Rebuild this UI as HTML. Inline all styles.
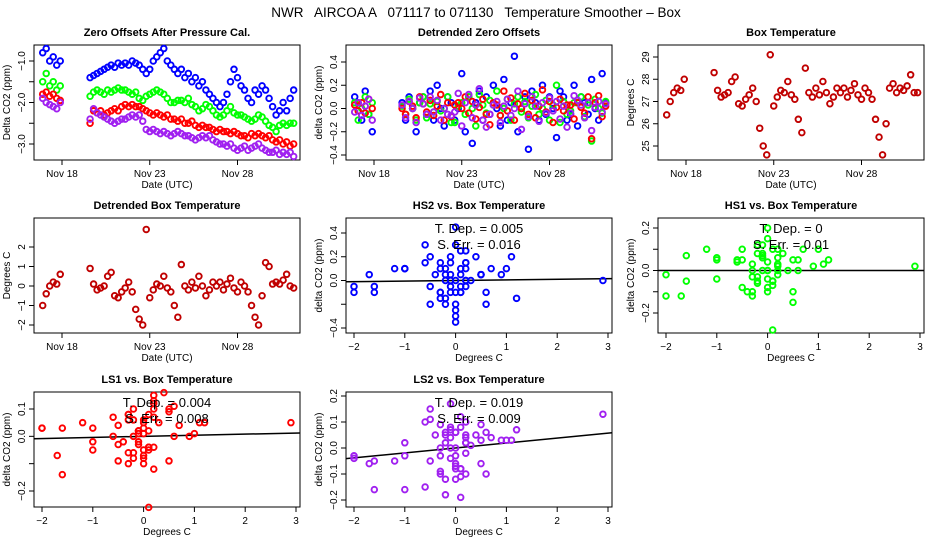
<!DOCTYPE html>
<html><head><meta charset="utf-8"><style>
html,body{margin:0;padding:0;background:#fff}
svg{display:block;font-family:"Liberation Sans",Arial,sans-serif}
</style></head><body>
<svg id="fig" width="936" height="540" viewBox="0 0 936 540" xmlns="http://www.w3.org/2000/svg">
<rect width="936" height="540" fill="#fff"/>
<text x="476" y="17" font-size="13.5" text-anchor="middle" xml:space="preserve">NWR   AIRCOA A   071117 to 071130   Temperature Smoother – Box</text>
</svg>
<script>
const timesA=[16.9,17.1,17.3,17.5,17.7,17.9];
const timesB=[19.6,19.8,20.0,20.2,20.4,20.6,20.8,21.0,21.2,21.4,21.6,21.8,22.0,22.2,22.4,22.6,22.8,23.0,23.2,23.4,23.6,23.8,24.0,24.2,24.4,24.6,24.8,25.0,25.2,25.4,25.6,25.8,26.0,26.2,26.4,26.6,26.8,27.0,27.2,27.4,27.6,27.8,28.0,28.2,28.4,28.6,28.8,29.0,29.2,29.4,29.6,29.8,30.0,30.2,30.4,30.6,30.8,31.0,31.2];
const times=timesA.concat(timesB);
const zeroHS2=[-0.8,-0.7,-1.0,-0.9,-1.1,-1.0,-1.4,-1.35,-1.3,-1.25,-1.2,-1.15,-1.1,-1.15,-1.05,-1.1,-1.05,-1.1,-1.0,-1.05,-1.1,-1.2,-1.3,-1.2,-1.0,-0.9,-0.8,-0.7,-1.0,-1.1,-1.2,-1.3,-1.2,-1.4,-1.3,-1.5,-1.4,-1.6,-1.5,-1.7,-1.8,-1.9,-2.0,-2.1,-2.0,-1.8,-1.5,-1.2,-1.4,-1.6,-1.7,-1.9,-2.0,-1.7,-1.8,-1.6,-1.7,-1.9,-2.1,-2.3,-2.2,-2.0,-2.2,-1.9,-1.7];
const zeroHS1=[-1.5,-1.3,-1.6,-1.5,-1.7,-1.6,-1.85,-1.75,-1.7,-1.75,-1.8,-1.7,-1.75,-1.7,-1.65,-1.7,-1.7,-1.75,-1.8,-1.75,-1.9,-1.95,-1.85,-1.8,-1.75,-1.7,-1.75,-1.8,-1.9,-2.0,-2.0,-1.95,-1.95,-2.0,-1.9,-2.05,-2.1,-2.2,-2.15,-2.05,-2.1,-2.2,-2.3,-2.35,-2.3,-2.2,-2.1,-2.25,-2.3,-2.3,-2.35,-2.4,-2.45,-2.4,-2.3,-2.35,-2.45,-2.55,-2.6,-2.7,-2.55,-2.5,-2.55,-2.5,-2.5];
const zeroLS1=[-1.8,-1.75,-1.85,-1.8,-1.9,-1.95,-2.5,-2.2,-2.25,-2.2,-2.3,-2.25,-2.2,-2.15,-2.2,-2.1,-2.05,-2.1,-2.05,-2.1,-2.1,-2.15,-2.2,-2.25,-2.3,-2.25,-2.3,-2.35,-2.3,-2.4,-2.4,-2.45,-2.4,-2.5,-2.5,-2.45,-2.55,-2.6,-2.55,-2.6,-2.6,-2.65,-2.7,-2.65,-2.7,-2.7,-2.75,-2.7,-2.75,-2.8,-2.8,-2.85,-2.75,-2.8,-2.75,-2.8,-2.85,-2.8,-2.9,-2.95,-2.9,-3.0,-2.95,-3.05,-3.0];
const zeroLS2=[-1.9,-2.0,-2.05,-2.1,-2.15,-2.0,-2.4,-2.15,-2.25,-2.3,-2.35,-2.4,-2.45,-2.5,-2.45,-2.4,-2.4,-2.35,-2.3,-2.35,-2.3,-2.45,-2.65,-2.7,-2.65,-2.7,-2.75,-2.7,-2.75,-2.8,-2.75,-2.7,-2.75,-2.8,-2.8,-2.85,-2.9,-2.85,-2.8,-2.85,-2.8,-2.9,-2.95,-3.0,-3.0,-3.05,-3.0,-3.1,-3.15,-3.1,-3.05,-3.15,-3.1,-3.05,-3.0,-3.1,-3.15,-3.2,-3.2,-3.15,-3.25,-3.2,-3.25,-3.2,-3.3];
const detHS2=[0.1,0.05,-0.1,0.15,-0.05,-0.2,0.05,-0.1,0.1,0.0,-0.2,0.05,0.1,-0.05,0.15,-0.1,0.2,0.0,-0.15,0.1,0.05,-0.1,0.0,0.3,-0.2,0.1,-0.3,0.05,0.15,-0.1,0.1,-0.05,0.2,0.0,-0.15,0.25,-0.1,0.05,0.45,-0.2,0.0,0.1,-0.35,0.15,0.05,-0.1,0.2,-0.05,0.1,0.0,-0.25,0.15,0.1,-0.1,-0.05,0.2,-0.15,0.1,0.05,-0.05,0.25,0.0,-0.1,0.3,0.05];
const detHS1=[0.05,-0.1,0.0,0.1,-0.05,0.05,0.02,-0.05,0.08,0.0,-0.1,0.05,0.1,-0.08,0.04,-0.03,0.06,-0.02,0.0,0.1,-0.12,-0.12,0.02,0.05,-0.05,0.1,0.0,-0.15,0.12,0.03,-0.04,0.07,0.03,0.15,-0.06,0.0,0.08,-0.1,0.04,0.1,-0.03,0.06,-0.08,0.02,0.12,-0.05,0.0,0.07,-0.1,0.03,0.2,-0.12,0.06,-0.05,-0.02,0.05,0.05,0.1,-0.07,0.03,-0.28,0.08,0.0,-0.04,0.06];
const detLS1=[0.03,-0.02,0.05,-0.04,0.08,0.0,0.0,-0.05,0.06,0.02,-0.08,0.1,0.04,-0.03,0.07,-0.06,0.02,0.12,-0.1,0.05,-0.07,0.03,0.05,0.0,0.1,-0.04,0.06,-0.09,0.01,0.08,-0.05,-0.14,0.05,0.03,-0.06,0.15,-0.02,0.09,-0.1,0.04,0.0,0.13,-0.05,0.07,-0.08,0.02,0.16,-0.03,0.06,-0.12,0.01,0.08,-0.02,0.03,0.03,-0.09,0.05,0.01,-0.04,0.1,-0.26,0.05,0.11,-0.07,0.02];
const detLS2=[-0.03,0.05,-0.06,0.02,0.08,-0.1,0.03,-0.08,0.06,0.0,-0.12,0.09,0.04,-0.05,0.1,-0.03,0.07,-0.1,0.0,-0.05,-0.06,-0.03,0.13,-0.15,0.05,0.12,-0.08,0.03,0.17,-0.1,-0.16,-0.05,0.03,0.06,-0.12,0.02,0.08,-0.06,0.0,0.15,-0.18,0.04,-0.07,0.1,0.02,-0.11,0.05,-0.04,0.09,-0.02,0.06,-0.09,0.02,-0.16,-0.04,0.11,0.07,0.03,-0.08,0.05,-0.19,0.01,0.06,-0.03,0.04];
const boxTemp=[26.4,27.0,27.4,27.6,27.5,28.0,28.3,27.5,27.2,27.3,27.4,27.9,28.1,26.9,26.8,27.1,27.3,27.6,27.0,25.8,25.0,24.6,29.1,26.8,27.2,27.5,27.4,27.9,27.3,27.1,26.2,25.6,28.5,27.4,27.2,27.6,27.3,27.9,27.4,26.9,27.2,27.6,27.4,27.6,27.2,27.5,27.8,27.3,27.1,27.6,27.4,27.1,26.2,25.4,24.6,26.0,27.6,27.8,27.4,27.6,27.5,27.7,28.2,27.4,27.4];
const detBoxTemp=[-1.0,-0.4,0.0,0.2,0.1,0.6,0.9,0.1,-0.2,-0.1,0.0,0.5,0.7,-0.5,-0.6,-0.3,-0.1,0.2,-0.3,-1.2,-1.7,-2.0,2.9,-0.6,-0.2,0.1,0.0,0.5,-0.1,-0.3,-1.0,-1.6,1.1,0.0,-0.2,0.2,-0.1,0.5,0.0,-0.5,-0.2,0.2,0.0,0.2,-0.2,0.1,0.4,-0.1,-0.3,0.2,0.0,-0.3,-1.0,-1.6,-2.0,-0.5,1.2,1.0,0.1,0.2,0.1,0.3,0.6,0.0,-0.1];
const dateTicks=[18,23,28];
const dateLabels=["Nov 18","Nov 23","Nov 28"];
const degTicks=[-2,-1,0,1,2,3];
const slopes=[0.005,0,0.004,0.019];
const tdepLabels=["0.005","0","0.004","0.019"];
const serrLabels=["0.016","0.01","0.008","0.009"];

const NS="http://www.w3.org/2000/svg";
const svg=document.getElementById('fig');
function el(tag,attrs,parent,txt){const e=document.createElementNS(NS,tag);for(const k in attrs)e.setAttribute(k,attrs[k]);if(txt!==undefined)e.textContent=txt;(parent||svg).appendChild(e);return e;}
const colsX=[[34,300],[346,612],[658,924]];
const rowsY=[[45,160],[218,333],[392,507]];
const C={b:"#0000ff",g:"#00ff00",r:"#ff0000",p:"#a020f0"};

function panel(cfg){
  const [L,R]=colsX[cfg.col],[T,B]=rowsY[cfg.row];
  const g=el('g',{});
  
  
  const sx=cfg.xf(L), sy=v=>cfg.y1p+(v-cfg.y1)*(cfg.y2p-cfg.y1p)/(cfg.y2-cfg.y1);
  const t=el('text',{x:(L+R)/2,y:T-9,'font-size':11,'font-weight':'bold','text-anchor':'middle'},g,cfg.title);
  
  
  const fr=el('rect',{x:L,y:T,width:R-L,height:B-T,fill:'none',stroke:'#000','stroke-width':1},g);
  
  
  cfg.xticks.forEach((v,i)=>{const x=sx(v);el('line',{x1:x,x2:x,y1:B,y2:B+5,stroke:'#000'},g);
    const lb=el('text',{x:x,y:B+17,'font-size':10,'text-anchor':'middle'},g,cfg.xlabels[i]);
    
    });
  const xt=el('text',{x:(L+R)/2,y:B+28,'font-size':10,'text-anchor':'middle'},g,cfg.xtitle);
  
  
  cfg.yticks.forEach(v=>{const y=sy(v);el('line',{x1:L-5,x2:L,y1:y,y2:y,stroke:'#000'},g);});
  cfg.ylabels.forEach(v=>{const y=sy(v);const lb=el('text',{x:L-9,y:y,'font-size':10,'text-anchor':'middle',transform:`rotate(-90 ${L-9} ${y})`},g,v.toFixed(cfg.yd).replace('-','−'));
    
    });
  const yt=el('text',{x:L-24,y:(T+B)/2,'font-size':10,'text-anchor':'middle',transform:`rotate(-90 ${L-24} ${(T+B)/2})`},g,cfg.ytitle);
  
  
  if(cfg.slope!==undefined){
    const ln=el('line',{x1:L,x2:R,y1:sy(cfg.slope*cfg.xinv(L)),y2:sy(cfg.slope*cfg.xinv(R)),stroke:'#000','stroke-width':1.5},g);
    
    
  }
  cfg.series.forEach(s=>{
    const sg=el('g',{fill:'none',stroke:s.c,'stroke-width':1.9},g);
    
    
    const n=Math.min(s.x.length,s.y.length);
    for(let i=0;i<n;i++){const x=sx(s.x[i]),y=sy(s.y[i]);if(y<T-2||y>B+2)continue;
      el('circle',{cx:x,cy:y,r:2.8},sg);}
  });
  if(cfg.ann!==undefined){
    const a1=el('text',{x:(L+R)/2,y:T+15,'font-size':13,'text-anchor':'middle','xml:space':'preserve'},g,'T. Dep. =  '+tdepLabels[cfg.ann]);
    
    
    const a2=el('text',{x:(L+R)/2,y:T+31,'font-size':13,'text-anchor':'middle','xml:space':'preserve'},g,'S. Err. =  '+serrLabels[cfg.ann]);
    
    
  }
}
const timeX=L=>d=>L+28+(d-18)*17.55;
const degX=L=>v=>L+8+(v+2)*50.8;
const degInv=L=>p=>(p-L-8)/50.8-2;
const dT={xticks:dateTicks,xlabels:dateLabels,xtitle:'Date (UTC)'};
const dD={xticks:degTicks,xlabels:degTicks.map(v=>String(v).replace('-','−')),xtitle:'Degrees C'};

panel(Object.assign({name:'zero-offsets-panel',col:0,row:0,title:'Zero Offsets After Pressure Cal.',xf:timeX,y1:-1,y1p:61,y2:-3,y2p:144,yticks:[-1,-1.5,-2,-2.5,-3],ylabels:[-1,-2,-3],yd:1,ytitle:'Delta CO2 (ppm)',
 series:[{n:'hs2-series',c:C.b,x:times,y:zeroHS2},{n:'hs1-series',c:C.g,x:times,y:zeroHS1},{n:'ls1-series',c:C.r,x:times,y:zeroLS1},{n:'ls2-series',c:C.p,x:times,y:zeroLS2}]},dT));
panel(Object.assign({name:'detrended-zero-offsets-panel',col:1,row:0,title:'Detrended Zero Offsets',xf:timeX,y1:0.4,y1p:62,y2:-0.4,y2p:155,yticks:[-0.4,-0.2,0,0.2,0.4],ylabels:[-0.4,-0.2,0,0.2,0.4],yd:1,ytitle:'delta CO2 (ppm)',
 series:[{n:'hs2-detrended',c:C.b,x:times,y:detHS2},{n:'hs1-detrended',c:C.g,x:times,y:detHS1},{n:'ls1-detrended',c:C.r,x:times,y:detLS1},{n:'ls2-detrended',c:C.p,x:times,y:detLS2}]},dT));
panel(Object.assign({name:'box-temperature-panel',col:2,row:0,title:'Box Temperature',xf:timeX,y1:29,y1p:57,y2:25,y2p:146,yticks:[25,26,27,28,29],ylabels:[25,26,27,28,29],yd:0,ytitle:'Degrees C',
 series:[{n:'box-temp-series',c:'#c00000',x:times,y:boxTemp}]},dT));
panel(Object.assign({name:'detrended-box-temp-panel',col:0,row:1,title:'Detrended Box Temperature',xf:timeX,y1:2,y1p:247,y2:-2,y2p:325,yticks:[-2,-1,0,1,2],ylabels:[-2,-1,0,1,2],yd:0,ytitle:'Degrees C',
 series:[{n:'detrended-box-temp-series',c:'#c00000',x:times,y:detBoxTemp}]},dT));
panel(Object.assign({name:'hs2-vs-temp-panel',col:1,row:1,title:'HS2 vs. Box Temperature',xf:degX,xinv:degInv(346),slope:slopes[0],ann:0,y1:0.4,y1p:233,y2:-0.4,y2p:328,yticks:[-0.4,-0.2,0,0.2,0.4],ylabels:[-0.4,0,0.2,0.4],yd:1,ytitle:'delta CO2 (ppm)',
 series:[{n:'hs2-scatter',c:C.b,x:detBoxTemp,y:detHS2}]},dD));
panel(Object.assign({name:'hs1-vs-temp-panel',col:2,row:1,title:'HS1 vs. Box Temperature',xf:degX,xinv:degInv(658),slope:slopes[1],ann:1,y1:0.2,y1p:228,y2:-0.2,y2p:313,yticks:[-0.2,-0.1,0,0.1,0.2],ylabels:[-0.2,0,0.2],yd:1,ytitle:'delta CO2 (ppm)',
 series:[{n:'hs1-scatter',c:C.g,x:detBoxTemp,y:detHS1}]},dD));
panel(Object.assign({name:'ls1-vs-temp-panel',col:0,row:2,title:'LS1 vs. Box Temperature',xf:degX,xinv:degInv(34),slope:slopes[2],ann:2,y1:0.1,y1p:409,y2:-0.2,y2p:491,yticks:[-0.2,-0.1,0,0.1],ylabels:[-0.2,0,0.1],yd:1,ytitle:'delta CO2 (ppm)',
 series:[{n:'ls1-scatter',c:C.r,x:detBoxTemp,y:detLS1}]},dD));
panel(Object.assign({name:'ls2-vs-temp-panel',col:1,row:2,title:'LS2 vs. Box Temperature',xf:degX,xinv:degInv(346),slope:slopes[3],ann:3,y1:0.2,y1p:396,y2:-0.2,y2p:500,yticks:[-0.2,-0.1,0,0.1,0.2],ylabels:[-0.2,-0.1,0,0.1,0.2],yd:1,ytitle:'delta CO2 (ppm)',
 series:[{n:'ls2-scatter',c:C.p,x:detBoxTemp,y:detLS2}]},dD));
</script>
</body></html>
